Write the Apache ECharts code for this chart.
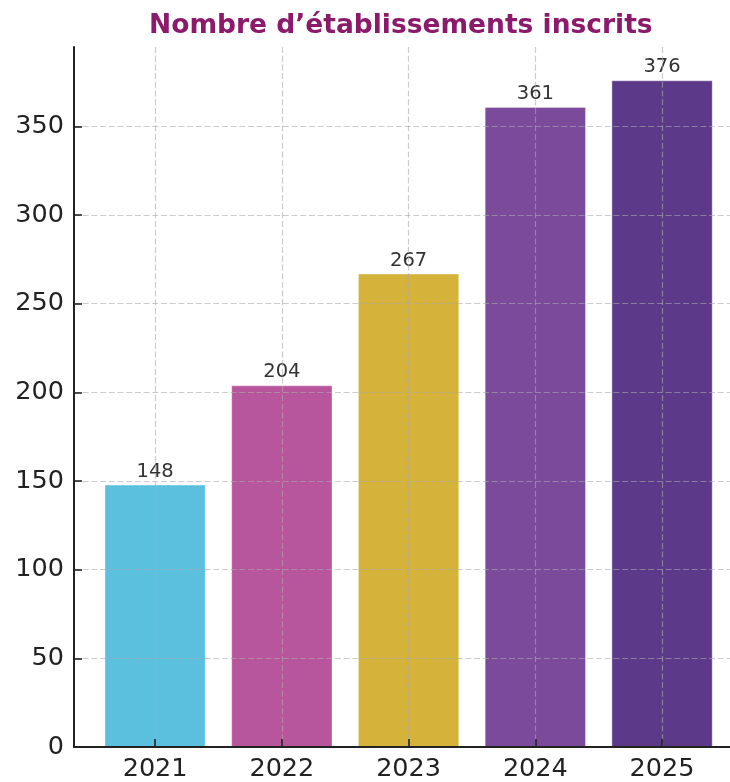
<!DOCTYPE html>
<html>
<head>
<meta charset="utf-8">
<script src="https://cdn.jsdelivr.net/npm/echarts@6/dist/echarts.min.js"></script>
<style>
html,body{margin:0;padding:0;background:#fff;}
#chart{width:730px;height:782px;}
</style>
</head>
<body>
<div id="chart"></div>
<script>
const title = 'Nombre d\u2019établissements inscrits';
const years = ['2021', '2022', '2023', '2024', '2025'];
const values = [148, 204, 267, 361, 376];
const colors = ['#5BC0DE', '#B8569D', '#D5B23A', '#7B4A9A', '#5C3A89'];
const yTicks = [0, 50, 100, 150, 200, 250, 300, 350];
const yMax = 394.8;

const chart = echarts.init(document.getElementById('chart'), null, {renderer: 'canvas'});
const font = 'DejaVu Sans';
const gridLine = {show: true, lineStyle: {color: 'rgba(170,170,170,0.6)', width: 1.2, type: [6, 2.7]}};

chart.setOption({
  animation: false,
  backgroundColor: '#fff',
  title: {
    text: title,
    left: 144,
    top: 8,
    textStyle: {fontFamily: font, fontSize: 26.5, fontWeight: 'bold', color: '#8B1A6B'}
  },
  grid: {left: 74, right: 0, top: 47, bottom: 33, containLabel: false},
  xAxis: {
    type: 'value',
    min: -0.64,
    max: 4.536,
    z: 3,
    axisLine: {show: true, onZero: false, lineStyle: {color: '#222', width: 2}},
    axisTick: {show: true, inside: true, length: 8, customValues: [0, 1, 2, 3, 4], lineStyle: {color: '#222', width: 1.6}},
    axisLabel: {
      customValues: [0, 1, 2, 3, 4],
      formatter: v => years[Math.round(v)] || '',
      fontFamily: font, fontSize: 25.5, color: '#222', margin: 9
    },
    splitLine: gridLine
  },
  yAxis: {
    type: 'value',
    min: 0,
    max: yMax,
    interval: 50,
    z: 3,
    axisLine: {show: true, onZero: false, lineStyle: {color: '#222', width: 2}},
    axisTick: {show: true, inside: true, length: 8, customValues: yTicks, lineStyle: {color: '#222', width: 1.6}},
    axisLabel: {customValues: yTicks, fontFamily: font, fontSize: 25.5, color: '#222', margin: 10, padding: [9, 0, 0, 0]},
    splitLine: gridLine
  },
  series: [{
    type: 'bar',
    z: 2,
    barWidth: 101.3,
    data: values.map((v, i) => ({value: [i, v], itemStyle: {color: colors[i]}})),
    itemStyle: {borderColor: 'rgba(255,255,255,0.35)', borderWidth: 1},
    label: {
      show: true,
      position: 'top',
      distance: 3,
      formatter: p => String(p.value[1]),
      fontFamily: font, fontSize: 19.5, color: '#333'
    }
  }]
});
</script>
</body>
</html>
